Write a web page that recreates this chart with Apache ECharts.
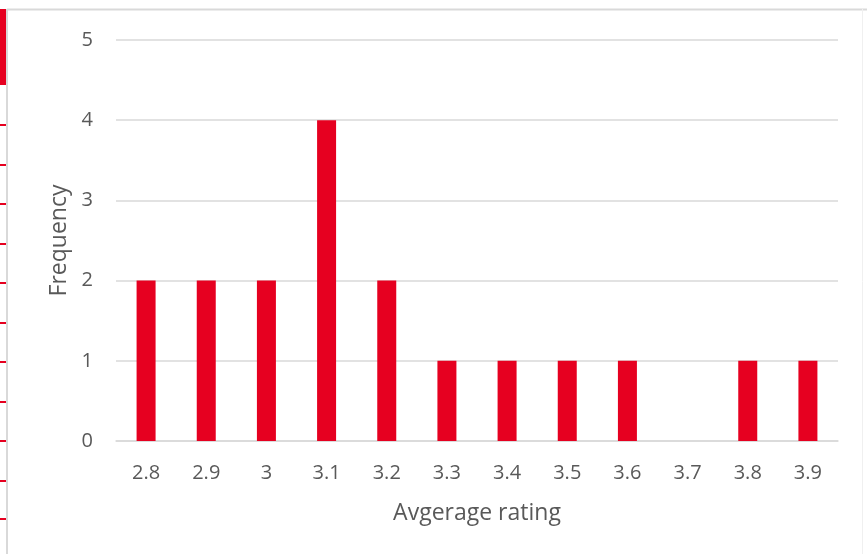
<!DOCTYPE html>
<html><head><meta charset="utf-8">
<script src="https://cdn.jsdelivr.net/npm/echarts@6/dist/echarts.min.js"></script>
<style>html,body{margin:0;padding:0;background:#fff}#c{width:867px;height:554px}</style>
</head><body><div id="c"></div>
<script>
var categories = ['2.8','2.9','3','3.1','3.2','3.3','3.4','3.5','3.6','3.7','3.8','3.9'];
var frequency = [2,2,2,4,2,1,1,1,1,0,1,1];
var yTicks = [0,1,2,3,4,5];

var chart = echarts.init(document.getElementById('c'));
var font = '"Open Sans", sans-serif';
var deco = [
  {type:'line', shape:{x1:7,y1:9.5,x2:867,y2:9.5}, style:{stroke:'#d9d9d9',lineWidth:2}},
  {type:'line', shape:{x1:7,y1:9,x2:7,y2:554}, style:{stroke:'#d9d9d9',lineWidth:2}},
  {type:'line', shape:{x1:862.5,y1:9,x2:862.5,y2:554}, style:{stroke:'#f0f0f0',lineWidth:1}},
  {type:'rect', shape:{x:0,y:9,width:6,height:76}, style:{fill:'#e60020'}}
];
[125,165,204,244,283,323,362,402,441,481,519].forEach(function(y){
  deco.push({type:'rect', shape:{x:0,y:y-1,width:6,height:2}, style:{fill:'#e60020'}});
});
chart.setOption({
  animation:false,
  graphic: deco,
  grid:{left:116,right:29,top:40,bottom:113},
  xAxis:{
    type:'category', data:categories,
    axisLine:{lineStyle:{color:'#d9d9d9',width:1.5}},
    axisTick:{show:false},
    axisLabel:{color:'#595959',fontSize:20,fontFamily:font,margin:22},
    name:'Avgerage rating', nameLocation:'middle', nameGap:61,
    nameTextStyle:{color:'#595959',fontSize:23,fontFamily:font}
  },
  yAxis:{
    type:'value', min:0, max:5, interval:1,
    axisLine:{show:false}, axisTick:{show:false},
    splitLine:{lineStyle:{color:'#d9d9d9',width:1.5}},
    axisLabel:{color:'#595959',fontSize:20,fontFamily:font,margin:23},
    name:'Frequency', nameLocation:'middle', nameGap:44, nameRotate:90,
    nameTextStyle:{color:'#595959',fontSize:23,fontFamily:font}
  },
  series:[{type:'bar', data:frequency, barWidth:19, itemStyle:{color:'#e60020'}}]
});
</script></body></html>
